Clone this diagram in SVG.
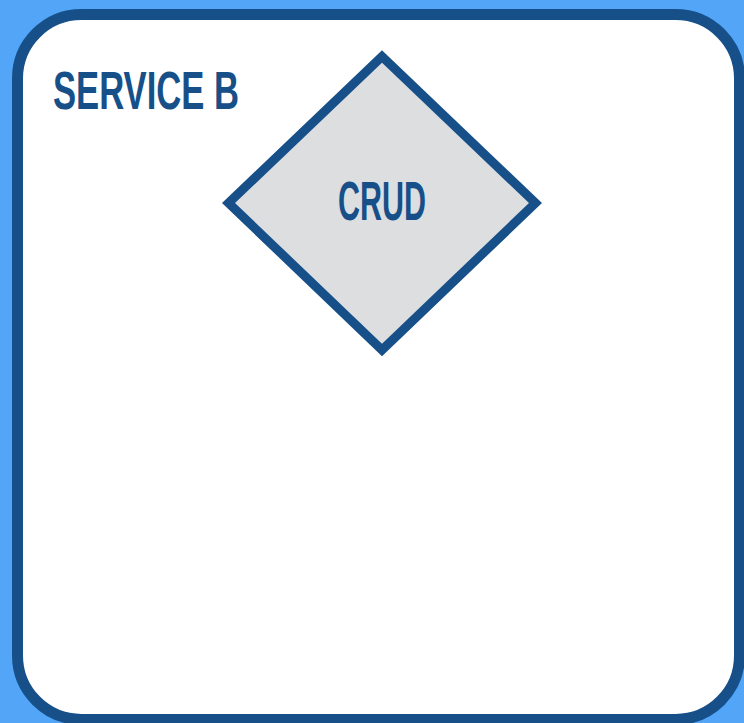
<svg xmlns="http://www.w3.org/2000/svg" width="744" height="723" viewBox="0 0 744 723">
<style>
.lbl{font-family:"Liberation Sans",Arial,sans-serif;font-weight:bold;fill:#175089}
</style>
<rect x="0" y="0" width="744" height="723" fill="#52A5F7"/>
<g id="service-b">
<rect x="17.5" y="14.5" width="722" height="705" rx="64" ry="64" fill="#FFFFFF" stroke="#175089" stroke-width="11"/>
<text class="lbl" x="53" y="109" font-size="53" textLength="186" lengthAdjust="spacingAndGlyphs">SERVICE B</text>
</g>
<g id="crud">
<polygon points="382,56.5 535.5,203 382,350 228.5,203" fill="#DCDEE0" stroke="#175089" stroke-width="9"/>
<text class="lbl" x="338" y="220" font-size="55" textLength="88" lengthAdjust="spacingAndGlyphs">CRUD</text>
</g>
<g id="connectors"/>
</svg>
